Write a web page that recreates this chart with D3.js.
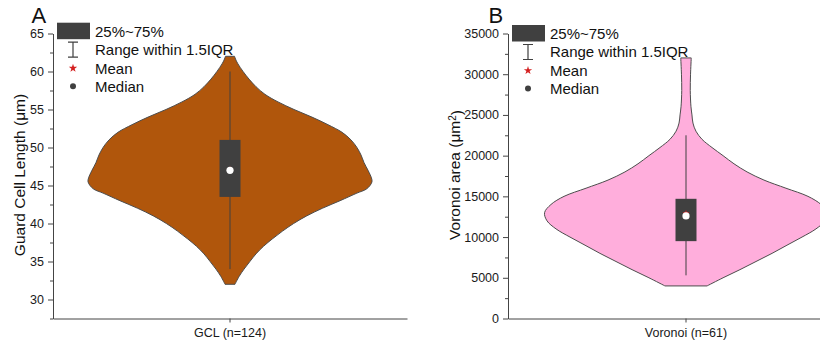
<!DOCTYPE html>
<html>
<head>
<meta charset="utf-8">
<script src="https://cdn.jsdelivr.net/npm/d3@7"></script>
<style>
  body { margin: 0; background: #fff; }
  svg { font-family: "Liberation Sans", Arial, sans-serif; }
</style>
</head>
<body>
<div id="chart"></div>
<script>
// ---- data ----
const legendLabels = ['25%~75%', 'Range within 1.5IQR', 'Mean', 'Median'];

// panel A: guard cell length
const gclCategory = 'GCL (n=124)';
const gclTicks = [30, 35, 40, 45, 50, 55, 60, 65];
const gclMinor = [27.5, 32.5, 37.5, 42.5, 47.5, 52.5, 57.5, 62.5];
const gclLevels = [62, 61.5, 61, 60, 59, 58, 57, 56, 55, 54, 53, 52, 51, 50, 49, 48, 47, 46, 45.5,
  45, 44.5, 44, 43, 42, 41, 40, 39, 38, 37, 36, 35, 34, 33, 32];
const gclDensity = [0.032, 0.042, 0.056, 0.092, 0.134, 0.183, 0.246, 0.338, 0.451, 0.577, 0.690,
  0.789, 0.852, 0.894, 0.923, 0.944, 0.972, 0.996, 1.0, 0.986, 0.958, 0.894, 0.775, 0.650, 0.540,
  0.448, 0.370, 0.300, 0.236, 0.183, 0.140, 0.099, 0.063, 0.035];
const gclBox = [34, 43.5, 47, 51, 60];   // whisker low, q1, median, q3, whisker high
const gclMean = 47.1;

// panel B: voronoi area
const vorCategory = 'Voronoi (n=61)';
const vorTicks = [0, 5000, 10000, 15000, 20000, 25000, 30000, 35000];
const vorMinor = [2500, 7500, 12500, 17500, 22500, 27500, 32500];
const vorLevels = [32000, 30000, 28000, 26000, 25000, 24000, 23000, 22000, 21000, 20000, 19000,
  18000, 17000, 16000, 15000, 14000, 13000, 12000, 11000, 10000, 9000, 8000, 7000, 6000, 5000, 4000];
const vorDensity = [0.037, 0.032, 0.030, 0.035, 0.042, 0.049, 0.070, 0.113, 0.183, 0.261, 0.338,
  0.430, 0.549, 0.704, 0.859, 0.951, 0.996, 0.979, 0.915, 0.817, 0.711, 0.606, 0.493, 0.380, 0.261, 0.148];
const vorBox = [5300, 9500, 12600, 14700, 22500];
const vorMean = 12900;

const width = 820, height = 343;
const plotTop = 33.5, plotBottom = 318.5;

const svg = d3.select('#chart')
  .append('svg')
  .attr('width', width)
  .attr('height', height);

function drawPanel(p) {
  const g = svg.append('g');

  const y = d3.scaleLinear().domain(p.yDomain).range([plotBottom, plotTop]);
  const x = d3.scaleBand().domain([p.category]).range([p.left, p.right]);
  const w = d3.scaleLinear().domain([0, 1]).range([0, 142]);
  const cx = x(p.category) + x.bandwidth() / 2;

  // violin
  const rows = p.levels.map((v, i) => ({v: v, d: p.density[i]}));
  const area = d3.area()
    .curve(d3.curveCatmullRom)
    .y(d => y(d.v))
    .x0(d => cx - w(d.d))
    .x1(d => cx + w(d.d));
  g.append('path')
    .datum(rows)
    .attr('d', area)
    .attr('fill', p.color)
    .attr('stroke', '#4d4d4d')
    .attr('stroke-width', 1);

  // whisker + box
  g.append('line')
    .attr('x1', cx).attr('x2', cx)
    .attr('y1', y(p.box[0])).attr('y2', y(p.box[4]))
    .attr('stroke', '#404040').attr('stroke-width', 1);
  g.append('rect')
    .attr('x', cx - 10.5).attr('width', 21)
    .attr('y', y(p.box[3])).attr('height', y(p.box[1]) - y(p.box[3]))
    .attr('fill', '#404040');
  g.append('path')
    .attr('d', d3.symbol(d3.symbolStar).size(14)())
    .attr('transform', `translate(${cx},${y(p.mean)})`)
    .attr('fill', '#d42020');
  g.append('circle')
    .attr('cx', cx).attr('cy', y(p.box[2])).attr('r', 3.6)
    .attr('fill', '#fff');

  // axes
  const yAxis = g.append('g')
    .attr('transform', `translate(${p.left},0)`)
    .call(d3.axisLeft(y).tickValues(p.ticks).tickFormat(d3.format('d'))
      .tickSize(5).tickSizeOuter(0).tickPadding(4));
  g.append('g')
    .attr('transform', `translate(${p.left},0)`)
    .call(d3.axisLeft(y).tickValues(p.minor).tickSize(3).tickFormat('').tickSizeOuter(0))
    .call(a => a.select('.domain').remove())
    .selectAll('line').attr('stroke', '#444');
  const xAxis = g.append('g')
    .attr('transform', `translate(0,${plotBottom})`)
    .call(d3.axisBottom(x).tickSize(4).tickSizeOuter(0).tickPadding(6));
  [yAxis, xAxis].forEach(a => {
    a.selectAll('.domain').attr('stroke', '#444');
    a.selectAll('line').attr('stroke', '#444');
    a.selectAll('text').attr('fill', '#1a1a1a').style('font-size', '12.5px');
    a.attr('font-family', null);
  });

  // axis title
  const title = g.append('text')
    .attr('transform', `translate(${p.titleX},${(plotTop + plotBottom) / 2 - 1}) rotate(-90)`)
    .attr('text-anchor', 'middle')
    .style('font-size', '15.5px')
    .attr('fill', '#111');
  p.title(title);

  // panel letter
  g.append('text')
    .attr('x', p.letterX).attr('y', 23)
    .style('font-size', '22px')
    .attr('fill', '#111')
    .text(p.letter);

  // legend
  const lg = g.append('g').attr('transform', `translate(${p.left},${p.legendY})`);
  lg.append('rect').attr('x', 4).attr('y', 0).attr('width', 33).attr('height', 16.5).attr('fill', '#404040');
  lg.append('path')
    .attr('d', 'M15,19.5H25M20,19.5V34.5M15,34.5H25')
    .attr('fill', 'none').attr('stroke', '#404040').attr('stroke-width', 1.2);
  lg.append('path')
    .attr('d', d3.symbol(d3.symbolStar).size(22)())
    .attr('transform', 'translate(20,45.5)')
    .attr('fill', '#d42020');
  lg.append('circle').attr('cx', 20).attr('cy', 63.5).attr('r', 3).attr('fill', '#404040');
  lg.selectAll('text.lab')
    .data(legendLabels)
    .enter()
    .append('text')
    .attr('class', 'lab')
    .attr('x', 42)
    .attr('y', (d, i) => [14, 32, 51, 69][i])
    .style('font-size', '15px')
    .attr('fill', '#111')
    .text(d => d);
}

drawPanel({
  category: gclCategory, yDomain: [27.5, 65], ticks: gclTicks, minor: gclMinor,
  levels: gclLevels, density: gclDensity, box: gclBox, mean: gclMean,
  left: 53, right: 407, color: '#b0560c', titleX: 24.5, letter: 'A', letterX: 31.5, legendY: 22.7,
  title: t => {
    t.append('tspan').text('Guard Cell Length (\u03bcm)');
  }
});

drawPanel({
  category: vorCategory, yDomain: [0, 35000], ticks: vorTicks, minor: vorMinor,
  levels: vorLevels, density: vorDensity, box: vorBox, mean: vorMean,
  left: 508, right: 864, color: '#ffaedc', titleX: 460, letter: 'B', letterX: 488.5, legendY: 25,
  title: t => {
    t.append('tspan').text('Voronoi area (\u03bcm');
    t.append('tspan').attr('dy', '-0.45em').style('font-size', '10px').text('2');
    t.append('tspan').attr('dy', '0.45em').text(')');
  }
});
</script>
</body>
</html>
